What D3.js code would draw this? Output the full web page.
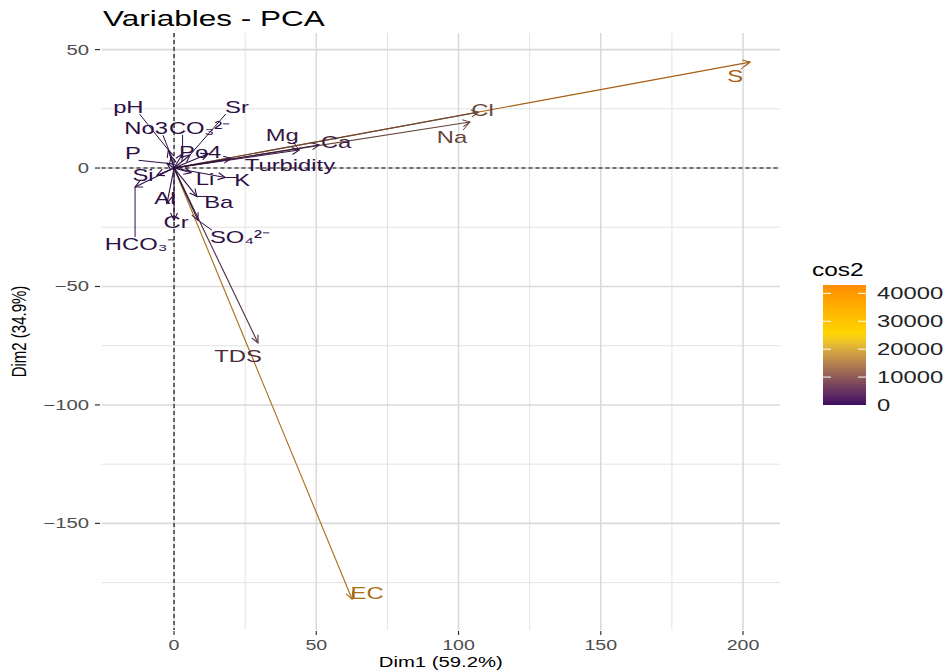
<!DOCTYPE html>
<html>
<head>
<meta charset="utf-8">
<script src="https://cdn.jsdelivr.net/npm/d3@7"></script>
<style>
  body { margin: 0; background: #fff; }
  text { font-family: "Liberation Sans", Arial, sans-serif; }
</style>
</head>
<body>
<svg class="plot" width="947" height="670"></svg>
<script>
// PCA variable coordinates
const varNames = ["S", "Cl", "Na", "EC", "TDS", "Ca", "Mg", "Turbidity", "Po4", "K", "Li", "Ba",
  "Al", "Cr", "SO₄²⁻", "HCO₃⁻", "Si", "P", "pH", "Sr", "No3", "CO₃²⁻"]
const dim1 = [202.5, 107, 104, 62.6, 29.5, 51, 44, 20, 12, 18, 6, 8,
  -2.5, 0, 8.4, -13.7, -6, -2.5, -2, 5.6, -1, 3]
const dim2 = [44.7, 23.6, 19.4, -182, -73.8, 9.7, 7.6, 4, 6, -4, -2, -12,
  -15, -22, -22, -8, -3, 2, 7.6, 5.5, 5, 6]
const cos2 = [43000, 12000, 11200, 37000, 6300, 2700, 2000, 420, 180, 340, 40, 210,
  230, 480, 560, 250, 45, 10, 60, 60, 26, 45]

const xTicks = [0, 50, 100, 150, 200]
const xMinor = [25, 75, 125, 175]
const yTicks = [50, 0, -50, -100, -150]
const yMinor = [25, -25, -75, -125, -175]
const legendTicks = [0, 10000, 20000, 30000, 40000]

// where the repelled labels ended up, in pixels from the arrow tip
const labelNudge = {
  "S": [-15, 14], "Cl": [4, -2], "Na": [-18, 15], "EC": [15, -6], "TDS": [-20, 13],
  "Ca": [17, -3], "Mg": [-17, -15], "Turbidity": [59, 6], "Po4": [-8, -2], "K": [17, 2],
  "Li": [14, 6], "Ba": [22, 5], "Al": [-2, -6], "Cr": [2, 2], "SO₄²⁻": [42, 17],
  "HCO₃⁻": [5, 57], "Si": [-14, 0], "P": [-34, -10], "pH": [-40, -43], "Sr": [47, -48],
  "No3": [-25, -28], "CO₃²⁻": [17, -26]
}

const SX = 1.4 // the source picture is stretched sideways
const svg = d3.select("svg.plot")

const x = d3.scaleLinear().domain([-25.5, 213]).range([101.5, 780])
const y = d3.scaleLinear().domain([-195, 57]).range([630, 33])
const color = d3.scaleLinear().domain([0, 25000, 43000])
  .range(["#3d0d63", "#ffd700", "#ff8c00"]).interpolate(d3.interpolateLab)
// arrows and labels come out darker than the legend bar in the source
const markColor = v => d3.interpolateLab(color(v), "#000")(0.32)

function stretchText(sel, px, py) {
  sel.attr("transform", "translate(" + px + "," + py + ") scale(" + SX + ",1)")
}

// grid
const grid = svg.append("g")
grid.selectAll("line.vmin").data(xMinor).join("line")
  .attr("x1", d => x(d)).attr("x2", d => x(d)).attr("y1", y.range()[1]).attr("y2", y.range()[0])
  .attr("stroke", "#e3e3e3").attr("stroke-width", 1)
grid.selectAll("line.hmin").data(yMinor).join("line")
  .attr("y1", d => y(d)).attr("y2", d => y(d)).attr("x1", x.range()[0]).attr("x2", x.range()[1])
  .attr("stroke", "#e3e3e3").attr("stroke-width", 1)
grid.selectAll("line.vmaj").data(xTicks).join("line")
  .attr("x1", d => x(d)).attr("x2", d => x(d)).attr("y1", y.range()[1]).attr("y2", y.range()[0])
  .attr("stroke", "#dadada").attr("stroke-width", 1.6)
grid.selectAll("line.hmaj").data(yTicks).join("line")
  .attr("y1", d => y(d)).attr("y2", d => y(d)).attr("x1", x.range()[0]).attr("x2", x.range()[1])
  .attr("stroke", "#dadada").attr("stroke-width", 1.6)

// axes ticks + labels
svg.selectAll("line.xt").data(xTicks).join("line")
  .attr("x1", d => x(d)).attr("x2", d => x(d)).attr("y1", 631).attr("y2", 635)
  .attr("stroke", "#333").attr("stroke-width", 1.2)
svg.selectAll("text.xt").data(xTicks).join("text")
  .attr("text-anchor", "middle").attr("font-size", 14).attr("fill", "#4d4d4d")
  .text(d => d)
  .each(function (d) { stretchText(d3.select(this), x(d), 650) })
svg.selectAll("line.yt").data(yTicks).join("line")
  .attr("x1", 95).attr("x2", 100).attr("y1", d => y(d)).attr("y2", d => y(d))
  .attr("stroke", "#333").attr("stroke-width", 1.2)
svg.selectAll("text.yt").data(yTicks).join("text")
  .attr("text-anchor", "end").attr("font-size", 14.5).attr("fill", "#4d4d4d")
  .text(d => d3.format("")(d).replace("-", "−"))
  .each(function (d) { stretchText(d3.select(this), 89, y(d) + 5) })

svg.append("text").attr("text-anchor", "middle").attr("font-size", 14.5)
  .text("Dim1 (59.2%)")
  .call(stretchText, (x.range()[0] + x.range()[1]) / 2, 667)
svg.append("text").attr("text-anchor", "middle").attr("font-size", 15)
  .text("Dim2 (34.9%)")
  .attr("transform", "translate(26," + (y.range()[0] + y.range()[1]) / 2 + ") scale(" + SX + ",1) rotate(-90)")
svg.append("text").attr("font-size", 22.5)
  .text("Variables - PCA")
  .call(stretchText, 103, 26)

// reference lines through the origin
svg.append("line").attr("x1", x(0)).attr("x2", x(0)).attr("y1", y.range()[1]).attr("y2", y.range()[0])
  .attr("stroke", "#000").attr("stroke-dasharray", "4,3").attr("stroke-width", 1.1)
svg.append("line").attr("y1", y(0)).attr("y2", y(0)).attr("x1", x.range()[0]).attr("x2", x.range()[1])
  .attr("stroke", "#000").attr("stroke-dasharray", "4,3").attr("stroke-width", 1.1)

const vars = varNames.map((n, i) => ({ name: n, d1: dim1[i], d2: dim2[i], cos2: cos2[i] }))

// label leader segments
const labelH = 14
vars.forEach(d => {
  const tx = x(d.d1), ty = y(d.d2)
  const nudge = labelNudge[d.name]
  const lx = tx + nudge[0], ly = ty + nudge[1]
  const w = d.name.length * 8 * SX
  const cx = Math.max(lx - w / 2, Math.min(tx, lx + w / 2))
  const cy = Math.max(ly - labelH / 2, Math.min(ty, ly + labelH / 2))
  if (Math.hypot(cx - tx, cy - ty) > 9) {
    svg.append("line").attr("x1", tx).attr("y1", ty).attr("x2", cx).attr("y2", cy)
      .attr("stroke", markColor(d.cos2)).attr("stroke-width", 1)
  }
})

// arrows, small ones last so the big ones sit underneath
const arrows = svg.append("g")
vars.slice().sort((a, b) => b.cos2 - a.cos2).forEach(d => {
  const x1 = x(d.d1), y1 = y(d.d2)
  const ang = Math.atan2(y1 - y(0), x1 - x(0))
  const len = 8, spread = Math.PI / 7
  const c = markColor(d.cos2)
  arrows.append("line").attr("x1", x(0)).attr("y1", y(0)).attr("x2", x1).attr("y2", y1)
    .attr("stroke", c).attr("stroke-width", 1.1)
  arrows.append("path")
    .attr("d", "M" + (x1 - len * Math.cos(ang - spread)) + "," + (y1 - len * Math.sin(ang - spread)) +
      "L" + x1 + "," + y1 +
      "L" + (x1 - len * Math.cos(ang + spread)) + "," + (y1 - len * Math.sin(ang + spread)))
    .attr("fill", "none").attr("stroke", c).attr("stroke-width", 1.1)
})

// labels
vars.forEach(d => {
  const nudge = labelNudge[d.name]
  svg.append("text").attr("text-anchor", "middle").attr("dominant-baseline", "central")
    .attr("font-size", 17).attr("fill", markColor(d.cos2))
    .text(d.name)
    .call(stretchText, x(d.d1) + nudge[0], y(d.d2) + nudge[1])
})

// legend
const legTop = 285, legBottom = 405, legLeft = 823, legW = 43
const legScale = d3.scaleLinear().domain([0, 43000]).range([legBottom, legTop])
const defs = svg.append("defs")
const grad = defs.append("linearGradient").attr("id", "cosgrad")
  .attr("x1", 0).attr("y1", 1).attr("x2", 0).attr("y2", 0)
d3.range(0, 43001, 2150).forEach(v => {
  grad.append("stop").attr("offset", v / 43000).attr("stop-color", color(v))
})
svg.append("rect").attr("x", legLeft).attr("y", legTop).attr("width", legW)
  .attr("height", legBottom - legTop).attr("fill", "url(#cosgrad)")
legendTicks.forEach(v => {
  if (v > 0) {
    svg.append("line").attr("x1", legLeft).attr("x2", legLeft + 8).attr("y1", legScale(v)).attr("y2", legScale(v))
      .attr("stroke", "#fff").attr("stroke-width", 1)
    svg.append("line").attr("x1", legLeft + legW - 8).attr("x2", legLeft + legW).attr("y1", legScale(v)).attr("y2", legScale(v))
      .attr("stroke", "#fff").attr("stroke-width", 1)
  }
  svg.append("text").attr("font-size", 17).attr("fill", "#222")
    .text(v).call(stretchText, legLeft + legW + 11, legScale(v) + 6)
})
svg.append("text").attr("font-size", 17.5).text("cos2").call(stretchText, 812, 276)
</script>
</body>
</html>
